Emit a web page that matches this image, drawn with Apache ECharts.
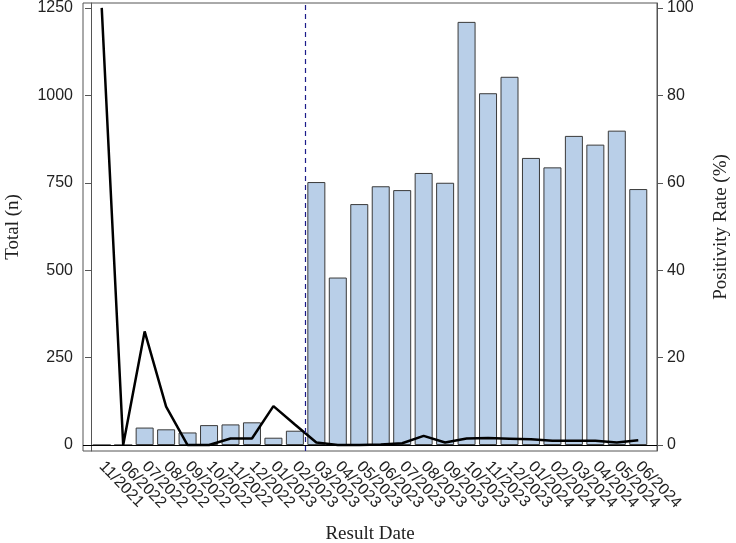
<!DOCTYPE html>
<html>
<head>
<meta charset="utf-8">
<script src="https://cdn.jsdelivr.net/npm/echarts@6/dist/echarts.min.js"></script>
<style>
  html, body { margin: 0; padding: 0; background: #fff; }
  #chart { width: 736px; height: 543px; }
</style>
</head>
<body>
<div id="chart"></div>
<script>
// data
var months = ['11/2021', '06/2022', '07/2022', '08/2022', '09/2022', '10/2022', '11/2022', '12/2022',
  '01/2023', '02/2023', '03/2023', '04/2023', '05/2023', '06/2023', '07/2023', '08/2023', '09/2023',
  '10/2023', '11/2023', '12/2023', '01/2024', '02/2024', '03/2024', '04/2024', '05/2024', '06/2024'];
var totals = [0, 0, 50, 45, 36, 57, 59, 65, 21, 41, 752, 479, 689, 740, 729, 778, 750,
  1210, 1006, 1053, 821, 794, 884, 859, 899, 732];
var positivity = [100, 0, 26, 8.8, 0, 0, 1.5, 1.5, 8.9, 4.7, 0.6, 0, 0, 0.1, 0.4, 2.1, 0.6,
  1.5, 1.6, 1.45, 1.3, 1.0, 1.0, 1.0, 0.6, 1.1];
var totalTicks = [0, 250, 500, 750, 1000, 1250];
var rateTicks = [0, 20, 40, 60, 80, 100];
var cutoffIndex = 10; // dashed line between 02/2023 and 03/2023

var chart = echarts.init(document.getElementById('chart'));

var tickFont = { fontFamily: 'Liberation Sans, Arial, sans-serif', fontSize: 16, color: '#222' };
var nameFont = { fontFamily: 'Liberation Serif, Times New Roman, serif', fontSize: 19, color: '#222' };
var axisCol = '#555';
var plain = function (v) { return String(v); };

chart.setOption({
  animation: false,
  grid: [
    { left: 91, right: 87, top: 3, bottom: 92, outerBoundsMode: 'none', containLabel: false },
    { left: 83, right: 79, top: 3, bottom: 92, outerBoundsMode: 'none', containLabel: false,
      show: true, borderColor: axisCol, borderWidth: 1 }
  ],
  xAxis: [
    {
      type: 'category', gridIndex: 0, data: months,
      name: 'Result Date', nameLocation: 'middle', nameGap: 74, nameTextStyle: nameFont,
      axisLine: { show: true, lineStyle: { color: axisCol } },
      axisTick: { alignWithLabel: true, length: 5, lineStyle: { color: axisCol } },
      axisLabel: Object.assign({ interval: 0, rotate: -46, margin: 13 }, tickFont)
    },
    { type: 'value', gridIndex: 0, min: 0, max: months.length, show: false },
    { type: 'value', gridIndex: 1, min: 0, max: 1, show: false }
  ],
  yAxis: [
    {
      type: 'value', gridIndex: 0, min: -17, max: 1264, offset: 8,
      name: 'Total (n)', nameLocation: 'middle', nameGap: 60, nameTextStyle: nameFont,
      splitLine: { show: false },
      axisLine: { show: true, lineStyle: { color: axisCol } },
      axisTick: { show: true, length: 6, customValues: totalTicks, lineStyle: { color: axisCol } },
      axisLabel: Object.assign({ customValues: totalTicks, margin: 10, formatter: plain }, tickFont)
    },
    {
      type: 'value', gridIndex: 0, position: 'right', min: -1.36, max: 101.12, offset: 8,
      name: 'Positivity Rate (%)', nameLocation: 'middle', nameGap: 55, nameTextStyle: nameFont,
      splitLine: { show: false },
      axisLine: { show: true, lineStyle: { color: axisCol } },
      axisTick: { show: true, length: 6, customValues: rateTicks, lineStyle: { color: axisCol } },
      axisLabel: Object.assign({ customValues: rateTicks, margin: 10, formatter: plain }, tickFont)
    },
    { type: 'value', gridIndex: 1, min: -17, max: 1264, show: false }
  ],
  series: [
    {
      type: 'bar', xAxisIndex: 0, yAxisIndex: 0, data: totals, barWidth: 18,
      itemStyle: { color: '#b9cfe8', borderColor: '#3a3a3a', borderWidth: 1 },
      z: 2
    },
    {
      type: 'line', xAxisIndex: 0, yAxisIndex: 1, data: positivity,
      symbol: 'none', lineStyle: { color: '#000', width: 2.5 }, z: 4
    },
    {
      // zero baseline across the whole frame
      type: 'line', xAxisIndex: 2, yAxisIndex: 2, data: [],
      markLine: {
        silent: true, symbol: 'none', label: { show: false },
        lineStyle: { color: '#000', width: 1, type: 'solid' },
        data: [{ yAxis: 0 }]
      },
      z: 3
    },
    {
      type: 'line', xAxisIndex: 1, yAxisIndex: 0, data: [],
      markLine: {
        silent: true, symbol: 'none', label: { show: false },
        lineStyle: { color: '#1c1c8a', width: 1.2, type: [5, 4] },
        data: [{ xAxis: cutoffIndex }]
      },
      z: 3
    }
  ]
});
</script>
</body>
</html>
